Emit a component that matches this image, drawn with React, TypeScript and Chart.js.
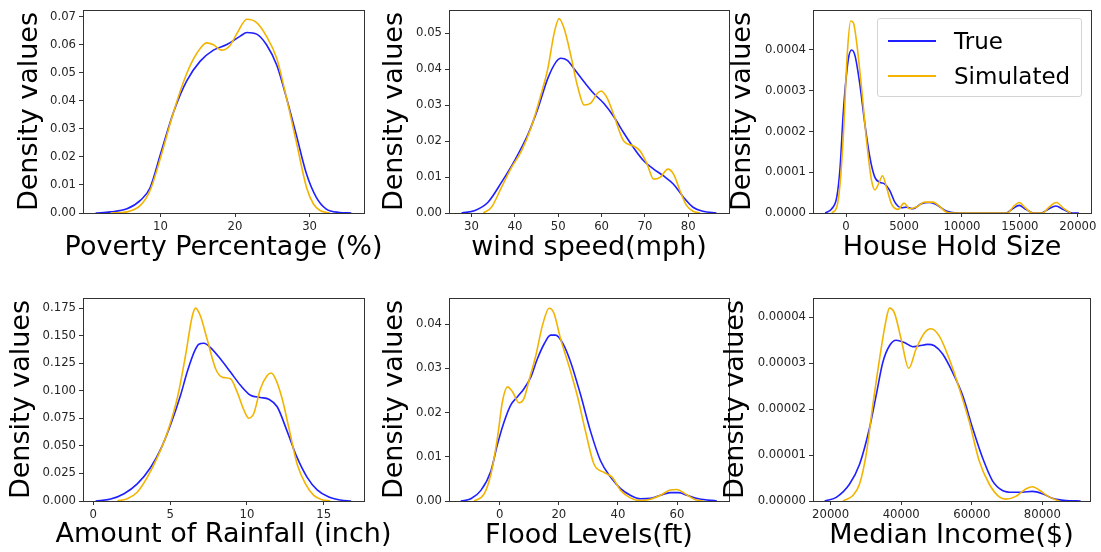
import React, { useEffect, useRef } from "react";
import { Chart, registerables } from "chart.js";
Chart.register(...registerables);

const FONT = "'DejaVu Sans', 'Liberation Sans', sans-serif";
const BLUE = "#1f1fff";
const GOLD = "#f2b400";

const seriesNames = ["True", "Simulated"];
const xTitles = [
  "Poverty Percentage (%)",
  "wind speed(mph)",
  "House Hold Size",
  "Amount of Rainfall (inch)",
  "Flood Levels(ft)",
  "Median Income($)",
];
const yTitle = "Density values";

// ---- Panel 1: Poverty Percentage ----
const povertyTrueX = [1.3, 3.3, 5.5, 7.3, 8.6, 10, 11.75, 13.5, 15.3, 17.1, 18.9, 20.7, 21.6, 22.9, 24.2, 25.6, 26.9, 28.2, 29.6, 30.9, 32.2, 34, 35.6];
const povertyTrueY = [0, 0.0004, 0.0015, 0.0045, 0.009, 0.021, 0.036, 0.047, 0.054, 0.058, 0.06, 0.063, 0.0643, 0.0637, 0.06, 0.0526, 0.041, 0.028, 0.0138, 0.0056, 0.0015, 0.0002, 0];
const povertySimX = [3.3, 5.5, 7.3, 8.6, 10, 11.75, 13.5, 14.9, 16.2, 17.1, 18.2, 19.3, 20.2, 21.6, 22.9, 24.2, 25.6, 26.9, 28.2, 29.6, 30.5, 31.4, 32.7];
const povertySimY = [0, 0.0004, 0.0027, 0.008, 0.0197, 0.036, 0.0496, 0.057, 0.0606, 0.0599, 0.058, 0.0596, 0.0637, 0.069, 0.0678, 0.063, 0.055, 0.041, 0.0256, 0.009, 0.0033, 0.0009, 0];
const povertyXTicks = ["10", "20", "30"];
const povertyYTicks = ["0.00", "0.01", "0.02", "0.03", "0.04", "0.05", "0.06", "0.07"];

// ---- Panel 2: wind speed ----
const windTrueX = [27.7, 30.8, 33.8, 36.9, 39.9, 43, 45.3, 47.6, 49.5, 50.6, 52.1, 53.7, 56, 58.2, 60.5, 62.8, 65.1, 67.4, 69.7, 72, 74.3, 76.6, 78.9, 81.1, 83.4, 86.5];
const windTrueY = [0, 0.0007, 0.003, 0.0085, 0.0145, 0.0218, 0.029, 0.0374, 0.042, 0.043, 0.0424, 0.04, 0.0364, 0.0332, 0.0305, 0.0268, 0.0223, 0.0181, 0.0145, 0.0122, 0.0103, 0.008, 0.0044, 0.0016, 0.0005, 0];
const windSimX = [32.7, 34.6, 36.9, 39.2, 41.5, 43.7, 46, 47.6, 49.1, 50.2, 51.4, 52.9, 54.4, 56, 57.5, 59, 59.9, 61.3, 62.8, 65.1, 67.4, 68.9, 70.5, 72, 73.5, 75.3, 76.6, 78.1, 79.6, 81.1, 82.7];
const windSimY = [0, 0.0016, 0.0071, 0.0126, 0.0172, 0.0236, 0.0328, 0.0401, 0.0502, 0.054, 0.0511, 0.0438, 0.0355, 0.03, 0.0305, 0.0332, 0.0339, 0.0319, 0.0273, 0.02, 0.0186, 0.0172, 0.0136, 0.0094, 0.0099, 0.0122, 0.0108, 0.0062, 0.0021, 0.0005, 0];
const windXTicks = ["30", "40", "50", "60", "70", "80"];
const windYTicks = ["0.00", "0.01", "0.02", "0.03", "0.04", "0.05"];

// ---- Panel 3: House Hold Size ----
const houseTrueX = [-1800, -1230, -800, -515, -230, 200, 486, 772, 1200, 1631, 2060, 2490, 2918, 3348, 3777, 4206, 4778, 5207, 5780, 6495, 7210, 7782, 8641, 9785, 13790, 14363, 14935, 15507, 16223, 16795, 17511, 18083, 18798, 19514, 20086];
const houseTrueY = [0, 0.0000105, 0.0000388, 0.000111, 0.000249, 0.000378, 0.0004, 0.000386, 0.000314, 0.000217, 0.000136, 0.0000873, 0.0000752, 0.0000711, 0.000055, 0.0000267, 0.0000129, 0.0000145, 0.0000105, 0.0000226, 0.0000259, 0.000021, 0.0000048, 0, 0, 0.0000105, 0.0000186, 0.0000089, 0, 0, 0.0000105, 0.000017, 0.000008, 0, 0];
const houseSimX = [-1230, -800, -515, -230, 114, 400, 630, 916, 1345, 1774, 2203, 2490, 2862, 3147, 3491, 3920, 4492, 5000, 5493, 6065, 6781, 7496, 8068, 8641, 9213, 13934, 14363, 14935, 15450, 16080, 16938, 17511, 18140, 18798, 19371];
const houseSimY = [0, 0.0000145, 0.0000711, 0.000192, 0.000394, 0.000471, 0.000467, 0.000418, 0.000305, 0.000176, 0.0000792, 0.0000566, 0.0000752, 0.0000913, 0.000063, 0.0000226, 0.0000089, 0.0000242, 0.0000105, 0.0000145, 0.0000267, 0.0000267, 0.0000162, 0.0000024, 0, 0, 0.0000129, 0.0000259, 0.0000129, 0, 0, 0.0000145, 0.0000259, 0.0000105, 0];
const houseXTicks = ["0", "5000", "10000", "15000", "20000"];
const houseYTicks = ["0.0000", "0.0001", "0.0002", "0.0003", "0.0004"];

// ---- Panel 4: Amount of Rainfall ----
const rainTrueX = [0.15, 1.13, 2, 2.86, 3.73, 4.38, 5.03, 5.68, 6.11, 6.55, 6.87, 7.2, 7.63, 8.28, 8.93, 9.58, 10.23, 10.88, 11.42, 11.97, 12.62, 13.27, 13.92, 14.57, 15.33, 16.08, 16.78];
const rainTrueY = [0, 0.0018, 0.0066, 0.0155, 0.0304, 0.0468, 0.0692, 0.096, 0.117, 0.1347, 0.1422, 0.1431, 0.1392, 0.1288, 0.117, 0.105, 0.096, 0.0939, 0.0924, 0.0855, 0.0632, 0.0393, 0.0215, 0.0101, 0.0036, 0.0009, 0];
const rainSimX = [1.56, 2.21, 2.86, 3.51, 4.16, 4.81, 5.46, 6, 6.44, 6.66, 6.98, 7.41, 7.96, 8.39, 8.93, 9.36, 9.8, 10.12, 10.45, 10.88, 11.32, 11.58, 11.86, 12.29, 12.73, 13.27, 13.81, 14.35, 14.89, 15.43];
const rainSimY = [0, 0.0021, 0.008, 0.0215, 0.0393, 0.0617, 0.093, 0.1318, 0.1676, 0.175, 0.1676, 0.1467, 0.12, 0.1124, 0.1109, 0.099, 0.0826, 0.0751, 0.0796, 0.1019, 0.1138, 0.1162, 0.1109, 0.093, 0.0662, 0.0334, 0.0155, 0.0051, 0.0012, 0];
const rainXTicks = ["0", "5", "10", "15"];
const rainYTicks = ["0.000", "0.025", "0.050", "0.075", "0.100", "0.125", "0.150", "0.175"];

// ---- Panel 5: Flood Levels ----
const floodTrueX = [-13.2, -9.8, -6.4, -3, -0.8, 1.5, 3.7, 6, 8.2, 10.5, 12.7, 15, 17.2, 18.9, 21.2, 24, 27.4, 30.7, 34.1, 37.5, 40.9, 44.2, 47.6, 51, 54.4, 57.7, 60.6, 63.4, 67.3, 73.5];
const floodTrueY = [0, 0.0005, 0.0024, 0.0068, 0.0128, 0.018, 0.0217, 0.0236, 0.0254, 0.028, 0.0321, 0.0355, 0.0375, 0.0375, 0.0358, 0.0314, 0.0239, 0.0158, 0.0091, 0.0054, 0.0028, 0.0013, 0.0005, 0.0006, 0.0013, 0.0019, 0.0019, 0.0013, 0.0005, 0];
const floodSimX = [-8.7, -5.3, -3, -0.8, 0.9, 2.6, 4.3, 6.5, 8.2, 9.9, 12.2, 14.4, 16.7, 18.3, 20.6, 23.4, 26.2, 29, 31.9, 35.2, 38, 40.9, 44.2, 47.6, 51, 54.4, 57.7, 60, 62.8, 66.2, 69];
const floodSimY = [0, 0.0016, 0.0061, 0.0143, 0.0225, 0.0258, 0.0247, 0.0222, 0.0232, 0.0273, 0.0329, 0.0396, 0.0436, 0.0425, 0.0366, 0.0306, 0.0239, 0.0158, 0.0083, 0.0065, 0.0054, 0.0024, 0.0007, 0.0001, 0.0004, 0.0013, 0.0025, 0.0026, 0.0016, 0.0003, 0];
const floodXTicks = ["0", "20", "40", "60"];
const floodYTicks = ["0.00", "0.01", "0.02", "0.03", "0.04"];

// ---- Panel 6: Median Income ----
const incomeTrueX = [18300, 21600, 25370, 28200, 31020, 32900, 34790, 36670, 38560, 40910, 43270, 45150, 47510, 49390, 51750, 54570, 57400, 60220, 63050, 65870, 68700, 71530, 74350, 77180, 80000, 82830, 86600, 90840];
const incomeTrueY = [0, 0.08e-5, 0.37e-5, 0.8e-5, 1.59e-5, 2.3e-5, 3.02e-5, 3.38e-5, 3.5e-5, 3.45e-5, 3.36e-5, 3.38e-5, 3.41e-5, 3.38e-5, 3.2e-5, 2.8e-5, 2.3e-5, 1.59e-5, 0.94e-5, 0.44e-5, 0.23e-5, 0.19e-5, 0.19e-5, 0.21e-5, 0.16e-5, 0.06e-5, 0.01e-5, 0];
const incomeSimX = [23490, 26310, 28200, 30080, 31960, 33850, 35730, 36670, 38090, 40000, 42140, 44210, 46570, 48450, 50800, 53630, 56460, 59280, 62110, 64930, 67760, 69640, 72470, 75290, 77180, 79060, 81890, 84710];
const incomeSimY = [0, 0.12e-5, 0.37e-5, 1.02e-5, 2.09e-5, 3.09e-5, 3.95e-5, 4.2e-5, 4.09e-5, 3.52e-5, 2.89e-5, 3.31e-5, 3.66e-5, 3.75e-5, 3.59e-5, 3.09e-5, 2.45e-5, 1.73e-5, 0.87e-5, 0.37e-5, 0.09e-5, 0.04e-5, 0.1e-5, 0.26e-5, 0.31e-5, 0.24e-5, 0.09e-5, 0];
const incomeXTicks = ["20000", "40000", "60000", "80000"];
const incomeYTicks = ["0.00000", "0.00001", "0.00002", "0.00003", "0.00004"];

type Box = { cl: number; ct: number; cb: number; pl: number; pt: number; pr: number; pb: number; yc: number; xc: number };
type Panel = {
  xTitle: string;
  xMin: number; xMax: number; yMax: number;
  xTicks: string[]; yTicks: string[];
  tx: number[]; ty: number[]; sx: number[]; sy: number[];
  box: Box;
};

const TITLE_SIZE = 27;

const framePlugin = {
  id: "frame",
  afterDraw(chart: any) {
    const { ctx, chartArea: a } = chart;
    ctx.save();
    ctx.strokeStyle = "#333333";
    ctx.lineWidth = 1;
    const l = Math.round(a.left - 0.5) + 0.5;
    const t = Math.round(a.top - 0.5) + 0.5;
    const r = Math.round(a.right - 0.5) + 0.5;
    const b = Math.round(a.bottom - 0.5) + 0.5;
    ctx.strokeRect(l, t, r - l, b - t);
    ctx.restore();
  },
};

function DensityPanel({ p }: { p: Panel }) {
  const ref = useRef<HTMLCanvasElement>(null);
  const b = p.box;
  // canvas symmetric about the plot centre so the full-width bottom title is centred on the plot
  const cr = b.pl + b.pr - b.cl;
  const w = cr - b.cl;
  const h = b.cb - b.ct;
  useEffect(() => {
    const xVals = p.xTicks.map(Number);
    const yVals = p.yTicks.map(Number);
    const tickFont = { family: FONT, size: 11.7 };
    const grid = { display: true, drawOnChartArea: false, drawTicks: true, tickLength: 4, color: "#333333", tickColor: "#333333", tickWidth: 1 };
    const border = { display: true, color: "#333333", width: 1 };
    const titlePadBottom = b.cb - b.xc - TITLE_SIZE / 2;
    const titleBoxH = TITLE_SIZE + titlePadBottom;
    const chart = new Chart(ref.current as HTMLCanvasElement, {
      type: "line",
      data: {
        datasets: [
          {
            label: seriesNames[0],
            data: p.tx.map((x, i) => ({ x, y: p.ty[i] })),
            borderColor: BLUE,
            backgroundColor: BLUE,
            borderWidth: 1.6,
            pointRadius: 0,
            cubicInterpolationMode: "monotone",
            fill: false,
            order: 1,
          },
          {
            label: seriesNames[1],
            data: p.sx.map((x, i) => ({ x, y: p.sy[i] })),
            borderColor: GOLD,
            backgroundColor: GOLD,
            borderWidth: 1.6,
            pointRadius: 0,
            cubicInterpolationMode: "monotone",
            fill: false,
            order: 0,
          },
        ],
      },
      options: {
        responsive: false,
        maintainAspectRatio: false,
        animation: false,
        events: [],
        layout: { padding: { left: 0, top: b.pt - b.ct, right: 0, bottom: 0 } },
        plugins: {
          legend: { display: false },
          tooltip: { enabled: false },
          title: {
            display: true,
            text: p.xTitle,
            position: "bottom",
            align: "center",
            fullSize: true,
            color: "#000000",
            font: { family: FONT, size: TITLE_SIZE, lineHeight: 1, weight: "normal" },
            padding: { top: 0, bottom: titlePadBottom },
          },
        },
        scales: {
          x: {
            type: "linear",
            min: p.xMin,
            max: p.xMax,
            afterBuildTicks: (s: any) => { s.ticks = xVals.map((v) => ({ value: v })); },
            afterFit: (s: any) => { s.height = b.cb - b.pb - titleBoxH; },
            ticks: {
              font: tickFont,
              color: "#262626",
              padding: 3,
              maxRotation: 0,
              autoSkip: false,
              callback: (_v: any, i: number) => p.xTicks[i],
            },
            grid,
            border,
          },
          y: {
            type: "linear",
            position: "left",
            min: 0,
            max: p.yMax,
            afterBuildTicks: (s: any) => { s.ticks = yVals.map((v) => ({ value: v })); },
            afterFit: (s: any) => { s.width = b.pl - b.cl; },
            ticks: {
              font: tickFont,
              color: "#262626",
              padding: 3,
              autoSkip: false,
              callback: (_v: any, i: number) => p.yTicks[i],
            },
            grid,
            border,
            title: {
              display: true,
              text: yTitle,
              color: "#000000",
              font: { family: FONT, size: TITLE_SIZE, lineHeight: 1 },
              padding: { top: b.yc - b.cl - TITLE_SIZE / 2, bottom: 0 },
            },
          },
          spacer: {
            type: "linear",
            position: "right",
            display: true,
            grid: { display: false, drawTicks: false },
            border: { display: false },
            ticks: { display: false },
            afterFit: (s: any) => { s.width = cr - b.pr; },
          },
        },
      } as any,
      plugins: [framePlugin],
    });
    return () => chart.destroy();
  }, [p]);
  return (
    <canvas
      ref={ref}
      width={w}
      height={h}
      style={{ position: "absolute", left: b.cl, top: b.ct, width: w, height: h }}
    />
  );
}

const panels: Panel[] = [
  { xTitle: xTitles[0], xMin: -0.4, xMax: 37.3, yMax: 0.0723, xTicks: povertyXTicks, yTicks: povertyYTicks, tx: povertyTrueX, ty: povertyTrueY, sx: povertySimX, sy: povertySimY,
    box: { cl: 0, ct: 0, cb: 263, pl: 83, pt: 7, pr: 364, pb: 213, yc: 30, xc: 248 } },
  { xTitle: xTitles[1], xMin: 24.8, xMax: 89.4, yMax: 0.0564, xTicks: windXTicks, yTicks: windYTicks, tx: windTrueX, ty: windTrueY, sx: windSimX, sy: windSimY,
    box: { cl: 361, ct: 0, cb: 263, pl: 449, pt: 7, pr: 729, pb: 213, yc: 395, xc: 248 } },
  { xTitle: xTitles[2], xMin: -2850, xMax: 21130, yMax: 0.000498, xTicks: houseXTicks, yTicks: houseYTicks, tx: houseTrueX, ty: houseTrueY, sx: houseSimX, sy: houseSimY,
    box: { cl: 712, ct: 0, cb: 263, pl: 813, pt: 7, pr: 1091, pb: 213, yc: 743, xc: 248 } },
  { xTitle: xTitles[3], xMin: -0.67, xMax: 17.62, yMax: 0.1842, xTicks: rainXTicks, yTicks: rainYTicks, tx: rainTrueX, ty: rainTrueY, sx: rainSimX, sy: rainSimY,
    box: { cl: 0, ct: 288, cb: 551, pl: 83, pt: 295, pr: 364, pb: 501, yc: 22, xc: 535 } },
  { xTitle: xTitles[4], xMin: -17.2, xMax: 77.6, yMax: 0.0459, xTicks: floodXTicks, yTicks: floodYTicks, tx: floodTrueX, ty: floodTrueY, sx: floodSimX, sy: floodSimY,
    box: { cl: 361, ct: 288, cb: 551, pl: 449, pt: 295, pr: 729, pb: 501, yc: 395, xc: 536 } },
  { xTitle: xTitles[5], xMin: 15000, xMax: 93500, yMax: 4.42e-5, xTicks: incomeXTicks, yTicks: incomeYTicks, tx: incomeTrueX, ty: incomeTrueY, sx: incomeSimX, sy: incomeSimY,
    box: { cl: 712, ct: 288, cb: 551, pl: 813, pt: 295, pr: 1090, pb: 501, yc: 736, xc: 536 } },
];

function Legend() {
  const colors = [BLUE, GOLD];
  return (
    <div
      style={{
        position: "absolute",
        left: 877,
        top: 18,
        width: 205,
        height: 79,
        boxSizing: "border-box",
        border: "1px solid #d4d4d4",
        borderRadius: 3,
        background: "rgba(255,255,255,0.85)",
        fontFamily: FONT,
        fontSize: 23,
        color: "#000",
        zIndex: 2,
      }}
    >
      {seriesNames.map((name, i) => (
        <div key={name}>
          <div
            style={{
              position: "absolute",
              left: 10,
              top: (i === 0 ? 22 : 57) - 1,
              width: 48,
              height: 2,
              background: colors[i],
            }}
          />
          <div
            style={{
              position: "absolute",
              left: 76,
              top: (i === 0 ? 22 : 57) - 14,
              height: 28,
              lineHeight: "28px",
              whiteSpace: "nowrap",
            }}
          >
            {name}
          </div>
        </div>
      ))}
    </div>
  );
}

export default function App() {
  return (
    <div style={{ position: "absolute", left: 0, top: 0, width: 1101, height: 552, background: "#ffffff", overflow: "hidden" }}>
      {panels.map((p, i) => (
        <DensityPanel key={i} p={p} />
      ))}
      <Legend />
    </div>
  );
}
